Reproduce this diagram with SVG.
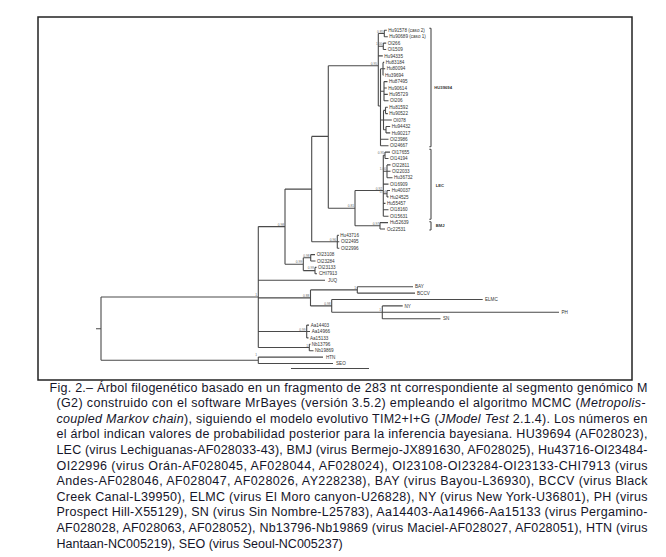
<svg xmlns="http://www.w3.org/2000/svg" width="666" height="557" viewBox="0 0 666 557">
<style>
.frame{fill:none;stroke:#222;stroke-width:1.5}
.br{fill:none;stroke:#4a4a4a;stroke-width:1.1}
.tip{font-family:"Liberation Sans",Arial,sans-serif;font-size:4.6px;fill:#333}
.pp{font-family:"Liberation Sans",Arial,sans-serif;font-size:3.2px;fill:#666;text-anchor:end}
.grp{font-family:"Liberation Sans",Arial,sans-serif;font-size:4.2px;font-weight:bold;fill:#333}
.cap{font-family:"Liberation Sans",Arial,sans-serif;font-size:12.5px;fill:#15152a}
.it{font-style:italic}
</style>
<rect width="666" height="557" fill="#fff"/>
<rect class="frame" x="38" y="17" width="594" height="363"/>

<g id="connectors">
<path class="br" d="
M96,328.7H101 M101,297V360.3 M101,297H258.3 M101,360.3H258.3
M258.3,226.6V347.5
M258.3,357.1V363.5 M258.3,357.1H323 M258.3,363.5H333
M258.3,226.6H285 M285,189.1V264.2
M285,264.2H303.3 M303.3,257.8V270.6
M303.3,257.8H310.7 M310.7,254.6V261 M310.7,254.6H315 M310.7,261H315.5
M303.3,270.6H315 M315,267.4V273.8 M315,267.4H316.5 M315,273.8H317
M285,189.1H311.7 M311.7,136.4V241.8
M311.7,241.8H337.3 M337.3,235.4V248.2 M337.3,235.4H338.8 M337.3,241.8H339.3 M337.3,248.2H339.3
M311.7,136.4H328.3 M328.3,65.7V208.2
M328.3,208.2H355 M355,190.5V225.8
M355,225.8H380 M380,222.6V229 M380,222.6H388 M380,229H385
M355,190.5H383.3 M383.3,155.3V216.2
M383.3,155.3H385 M385,152.1V158.5 M385,152.1H390 M385,158.5H388.5
M383.3,171.3H387 M387,164.9V177.7 M387,164.9H390.5 M387,171.3H390.5 M387,177.7H392.5
M383.3,184.1H388.5
M383.3,193.7H387 M387,190.5V196.9 M387,190.5H390 M387,196.9H388.5
M383.3,203.4H385.5 M383.3,209.8H388.5 M383.3,216.2H388.5
M328.3,65.7H378.3 M378.3,33.5V106
M378.3,33.5H384.3 M384.3,30.3V36.7 M384.3,30.3H386.8 M384.3,36.7H387.8
M378.3,46.3H383.3 M383.3,43.1V49.5 M383.3,43.1H386.2 M383.3,49.5H386.2
M378.3,55.9H382.8
M378.3,106H380.5 M380.5,68.8V145.7
M380.5,68.8H383 M383,62.4V75.2 M383,62.4H384.2 M383,68.8H385.2 M383,75.2H383.5
M380.5,91.2H384 M384,81.6V100.8 M384,81.6H387.5 M384,88H386.8 M384,94.4H387.8 M384,100.8H388.5
M380.5,120H383.5 M383.5,110.4V129.7
M383.5,110.4H385.5 M385.5,107.2V113.6 M385.5,107.2H387.8 M385.5,113.6H387.8
M383.5,120H391.8
M383.5,129.7H386 M386,126.5V132.9 M386,126.5H390.2 M386,132.9H390.2
M380.5,139.3H388.5 M380.5,145.7H388.5
M258.3,280.3H325
M258.3,297.9H310.5 M310.5,289.9V305.9
M310.5,289.9H357.3 M357.3,286.7V293.1 M357.3,286.7H413 M357.3,293.1H415
M310.5,305.9H331.7 M331.7,299.5V312.3 M331.7,299.5H482.7
M331.7,312.3H382.3 M382.3,305.9V318.7 M382.3,305.9H402.7 M382.3,312.3H559 M382.3,318.7H440.5
M258.3,331.5H306.7 M306.7,325.1V337.9 M306.7,325.1H309 M306.7,331.5H310 M306.7,337.9H308.5
M258.3,347.5H309.3 M309.3,344.3V350.7 M309.3,344.3H310.5 M309.3,350.7H313.5
M291,368.5H369
M431,28.3V146.7 M429.3,28.3H431 M429.3,146.7H431
M431,149.3V219.3 M429.3,149.3H431 M429.3,219.3H431
M431,221.7V230 M429.3,221.7H431 M429.3,230H431
"/>
</g>

<g id="tips">
<text class="tip" x="388.3" y="31.9">Hu91578 (caso 2)</text>
<text class="tip" x="389.3" y="38.3">Hu90689 (caso 1)</text>
<text class="tip" x="387.7" y="44.7">OI266</text>
<text class="tip" x="387.7" y="51.1">OI1509</text>
<text class="tip" x="384.3" y="57.5">Hu94335</text>
<text class="tip" x="385.7" y="64">Hu83184</text>
<text class="tip" x="386.7" y="70.4">Hu80094</text>
<text class="tip" x="385" y="76.8">Hu39694</text>
<text class="tip" x="389" y="83.2">Hu87495</text>
<text class="tip" x="388.3" y="89.6">Hu90614</text>
<text class="tip" x="389.3" y="96">Hu95729</text>
<text class="tip" x="390" y="102.4">OI206</text>
<text class="tip" x="389.3" y="108.8">Hu81592</text>
<text class="tip" x="389.3" y="115.2">Hu90522</text>
<text class="tip" x="393.3" y="121.6">OI078</text>
<text class="tip" x="391.7" y="128.1">Hu94432</text>
<text class="tip" x="391.7" y="134.5">Hu90217</text>
<text class="tip" x="390" y="140.9">OI23986</text>
<text class="tip" x="390" y="147.3">OI24667</text>
<text class="tip" x="391.7" y="153.7">OI17655</text>
<text class="tip" x="390" y="160.1">OI14194</text>
<text class="tip" x="392" y="166.5">OI22811</text>
<text class="tip" x="392" y="172.9">OI22033</text>
<text class="tip" x="394" y="179.3">Hu36732</text>
<text class="tip" x="390" y="185.7">OI16909</text>
<text class="tip" x="391.7" y="192.1">Hu40037</text>
<text class="tip" x="390" y="198.5">Hu24525</text>
<text class="tip" x="387" y="205">Hu55457</text>
<text class="tip" x="390" y="211.4">OI18160</text>
<text class="tip" x="390" y="217.8">OI15631</text>
<text class="tip" x="390" y="224.2">Hu52639</text>
<text class="tip" x="387" y="230.6">Oc22531</text>
<text class="tip" x="340.3" y="237">Hu43716</text>
<text class="tip" x="341" y="243.4">OI22495</text>
<text class="tip" x="341" y="249.8">OI22996</text>
<text class="tip" x="316.7" y="256.2">OI23108</text>
<text class="tip" x="317" y="262.6">OI23284</text>
<text class="tip" x="318" y="269">OI23133</text>
<text class="tip" x="319" y="275.4">CHI7913</text>
<text class="tip" x="328" y="281.9">JUQ</text>
<text class="tip" x="415" y="288.3">BAY</text>
<text class="tip" x="417" y="294.7">BCCV</text>
<text class="tip" x="485" y="301.1">ELMC</text>
<text class="tip" x="404.5" y="307.5">NY</text>
<text class="tip" x="561.5" y="313.9">PH</text>
<text class="tip" x="443" y="320.3">SN</text>
<text class="tip" x="310.7" y="326.7">Aa14403</text>
<text class="tip" x="311.7" y="333.1">Aa14966</text>
<text class="tip" x="310" y="339.5">Aa15133</text>
<text class="tip" x="311.7" y="345.9">Nb13796</text>
<text class="tip" x="315" y="352.3">Nb19869</text>
<text class="tip" x="326" y="358.7">HTN</text>
<text class="tip" x="336" y="365.1">SEO</text>
</g>

<g id="groups">
<text class="grp" x="434.3" y="89.3">HU39694</text>
<text class="grp" x="435.7" y="186.8">LEC</text>
<text class="grp" x="435.7" y="227.3">BMJ</text>
</g>

<g id="support">
<text class="pp" x="257" y="295.5">1</text>
<text class="pp" x="257" y="356">1</text>
<text class="pp" x="284" y="225.8">0.98</text>
<text class="pp" x="302" y="263">0.99</text>
<text class="pp" x="309.5" y="256.5">0.98</text>
<text class="pp" x="314" y="269.3">0.99</text>
<text class="pp" x="336" y="240.8">0.96</text>
<text class="pp" x="354" y="207.3">0.81</text>
<text class="pp" x="382" y="189.5">0.92</text>
<text class="pp" x="379" y="224.8">0.97</text>
<text class="pp" x="384" y="154.3">0.95</text>
<text class="pp" x="386" y="170.3">1.00</text>
<text class="pp" x="386" y="192.7">0.94</text>
<text class="pp" x="377" y="64.7">0.95</text>
<text class="pp" x="383.3" y="32.5">0.85</text>
<text class="pp" x="382.3" y="45.3">1.00</text>
<text class="pp" x="309.3" y="297">0.88</text>
<text class="pp" x="356" y="289">1</text>
<text class="pp" x="330.5" y="305">0.98</text>
<text class="pp" x="381" y="311.3">1</text>
<text class="pp" x="305.5" y="330.5">0.99</text>
<text class="pp" x="308" y="346.5">1</text>
</g>

<g id="caption">
<text class="cap" x="49.5" y="391.5" textLength="598" lengthAdjust="spacing">Fig. 2.– Árbol filogenético basado en un fragmento de 283 nt correspondiente al segmento genómico M</text>
<text class="cap" x="56.5" y="407.1" textLength="589" lengthAdjust="spacing">(G2) construido con el software MrBayes (versión 3.5.2) empleando el algoritmo MCMC (<tspan class="it">Metropolis-</tspan></text>
<text class="cap" x="56.5" y="422.7" textLength="591" lengthAdjust="spacing"><tspan class="it">coupled Markov chain</tspan>), siguiendo el modelo evolutivo TIM2+I+G (<tspan class="it">JModel Test</tspan> 2.1.4). Los números en</text>
<text class="cap" x="56.5" y="438.3" textLength="591" lengthAdjust="spacing">el árbol indican valores de probabilidad posterior para la inferencia bayesiana. HU39694 (AF028023),</text>
<text class="cap" x="56.5" y="453.9" textLength="591" lengthAdjust="spacing">LEC (virus Lechiguanas-AF028033-43), BMJ (virus Bermejo-JX891630, AF028025), Hu43716-OI23484-</text>
<text class="cap" x="56.5" y="469.5" textLength="591" lengthAdjust="spacing">OI22996 (virus Orán-AF028045, AF028044, AF028024), OI23108-OI23284-OI23133-CHI7913 (virus</text>
<text class="cap" x="56.5" y="485.1" textLength="591" lengthAdjust="spacing">Andes-AF028046, AF028047, AF028026, AY228238), BAY (virus Bayou-L36930), BCCV (virus Black</text>
<text class="cap" x="56.5" y="500.7" textLength="591" lengthAdjust="spacing">Creek Canal-L39950), ELMC (virus El Moro canyon-U26828), NY (virus New York-U36801), PH (virus</text>
<text class="cap" x="56.5" y="516.3" textLength="591" lengthAdjust="spacing">Prospect Hill-X55129), SN (virus Sin Nombre-L25783), Aa14403-Aa14966-Aa15133 (virus Pergamino-</text>
<text class="cap" x="56.5" y="531.9" textLength="591" lengthAdjust="spacing">AF028028, AF028063, AF028052), Nb13796-Nb19869 (virus Maciel-AF028027, AF028051), HTN (virus</text>
<text class="cap" x="56.5" y="547.5">Hantaan-NC005219), SEO (virus Seoul-NC005237)</text>
</g>
</svg>
